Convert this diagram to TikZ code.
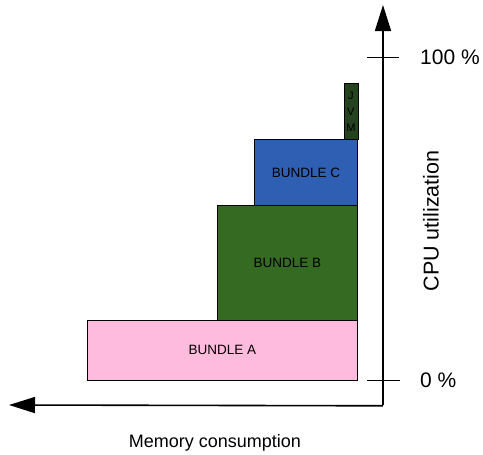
\documentclass[tikz,border=0pt]{standalone}
\usepackage{fontspec}
\setmainfont{Liberation Sans}
\usetikzlibrary{arrows.meta}
\definecolor{pinkA}{HTML}{FFBBDD}
\definecolor{greenB}{HTML}{356A22}
\definecolor{blueC}{HTML}{2F5FB3}
\definecolor{jvmG}{HTML}{24431E}
\begin{document}
\begin{tikzpicture}[x=1pt,y=-1pt,
  box/.style={draw=black, line width=0.8pt, inner sep=0pt, anchor=north west, font=\fontsize{13.5}{16}\selectfont},
  axis/.style={line width=1.6pt, -{Triangle[length=26pt,width=16pt]}},
  tick/.style={line width=0.6pt},
  lbl/.style={font=\fontsize{21}{25}\selectfont, anchor=west, inner sep=0pt}]
\useasboundingbox (0,0) rectangle (483,455);
\node[box, fill=pinkA, minimum width=270pt, minimum height=60pt] (A) at (87,320) {BUNDLE A};
\node[box, fill=greenB, minimum width=140pt, minimum height=115pt] (B) at (217,205) {BUNDLE B};
\node[box, fill=blueC, minimum width=103pt, minimum height=66pt] (C) at (254,139) {BUNDLE C};
\node[box, fill=jvmG, minimum width=14pt, minimum height=56pt, font=\fontsize{11}{16}\selectfont, align=center] (J) at (343.5,83) {J\\V\\M};
\coordinate (O) at (383,405);
\coordinate (Ytop) at (383,5);
\coordinate (Xend) at (9,405);
\draw[axis] (O) -- (Ytop);
\draw[axis] (383,405.8) -- (Xend);
\coordinate (t1a) at (367,57); \coordinate (t1b) at (399,57);
\coordinate (t0a) at (367,380); \coordinate (t0b) at (400,380);
\draw[tick] (t1a) -- (t1b);
\draw[tick] (t0a) -- (t0b);
\node[lbl] (p100) at (420,57) {100 \%};
\node[lbl] (p0) at (420,380) {0 \%};
\node[font=\fontsize{21.5}{25}\selectfont, rotate=90] (cpu) at (431,221) {CPU utilization};
\node[font=\fontsize{18}{21}\selectfont] (mem) at (215,443) {Memory consumption};
\end{tikzpicture}
\end{document}
